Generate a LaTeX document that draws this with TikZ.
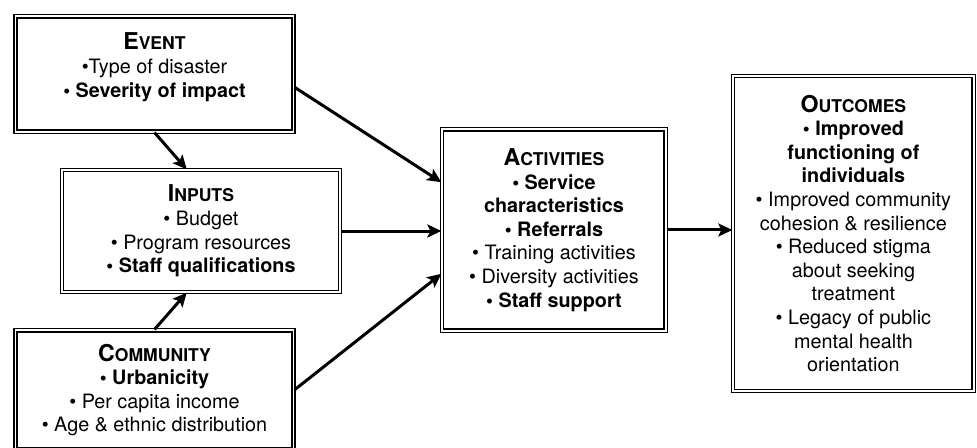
\documentclass[tikz,border=0pt]{standalone}
\usepackage{fontspec}
\setmainfont{TeX Gyre Heros}
\usepackage{tikz}
\usetikzlibrary{arrows.meta,positioning}
\newcommand{\heading}[2]{{\bfseries\fontsize{11.6}{12}\selectfont #1\fontsize{8.8}{12}\selectfont #2}}
\tikzstyle{block} = [draw, double, line width=0.75pt, double distance=0.8pt, align=center, inner sep=2pt, font=\fontsize{9.9}{11.8}\selectfont]
\tikzstyle{arrow} = [line width=1.5pt, ->, >={Stealth[length=7pt,width=6.5pt,inset=1.5pt]}]

\begin{document}
\begin{tikzpicture}
\useasboundingbox (0,0) rectangle (17.17,7.873);

% Left column
\node[block, minimum width=4.89cm, minimum height=2.03cm, text depth=9pt] (event) at (2.715,6.572)
  {\heading{E}{VENT}\\ \textbullet Type of disaster\\ \textbf{\textbullet\ Severity of impact}};
\node[block, minimum width=4.88cm, minimum height=2.14cm] (inputs) at (3.532,3.813)
  {\heading{I}{NPUTS}\\ \textbullet\ Budget\\ \textbullet\ Program resources\\ \textbf{\textbullet\ Staff qualifications}};
\node[block, minimum width=4.89cm, minimum height=2.10cm] (community) at (2.715,1.019)
  {\heading{C}{OMMUNITY}\\ \textbf{\textbullet\ Urbanicity}\\ \textbullet\ Per capita income\\ \textbullet\ Age \& ethnic distribution};

% Activities
\node[block, minimum width=3.93cm, minimum height=3.54cm] (activities) at (9.735,3.831)
  {\heading{A}{CTIVITIES}\\ \textbf{\textbullet\ Service}\\ \textbf{characteristics}\\ \textbf{\textbullet\ Referrals}\\
   \textbullet\ Training activities\\ \textbullet\ Diversity activities\\ \textbf{\textbullet\ Staff support}};

% Outcomes
\node[block, minimum width=4.23cm, minimum height=5.53cm] (outcomes) at (14.998,3.769)
  {\heading{O}{UTCOMES}\\ \textbf{\textbullet\ Improved}\\ \textbf{functioning of}\\ \textbf{individuals}\\
   \textbullet\ Improved community\\ cohesion \& resilience\\ \textbullet\ Reduced stigma\\ about seeking\\ treatment\\
   \textbullet\ Legacy of public\\ mental health\\ orientation};

% Arrows
\draw[arrow] (event.south) -- ([xshift=-0.25cm]inputs.north);
\draw[arrow] (community.north) -- ([xshift=-0.25cm]inputs.south);
\draw[arrow] ([yshift=-0.23cm]event.east) -- ([yshift=0.84cm]activities.west);
\draw[arrow] (inputs.east) -- (inputs.east -| activities.west);
\draw[arrow] (community.east) -- ([yshift=-0.77cm]activities.west);
\draw[arrow] (activities.east) -- (activities.east -| outcomes.west);
\end{tikzpicture}
\end{document}
